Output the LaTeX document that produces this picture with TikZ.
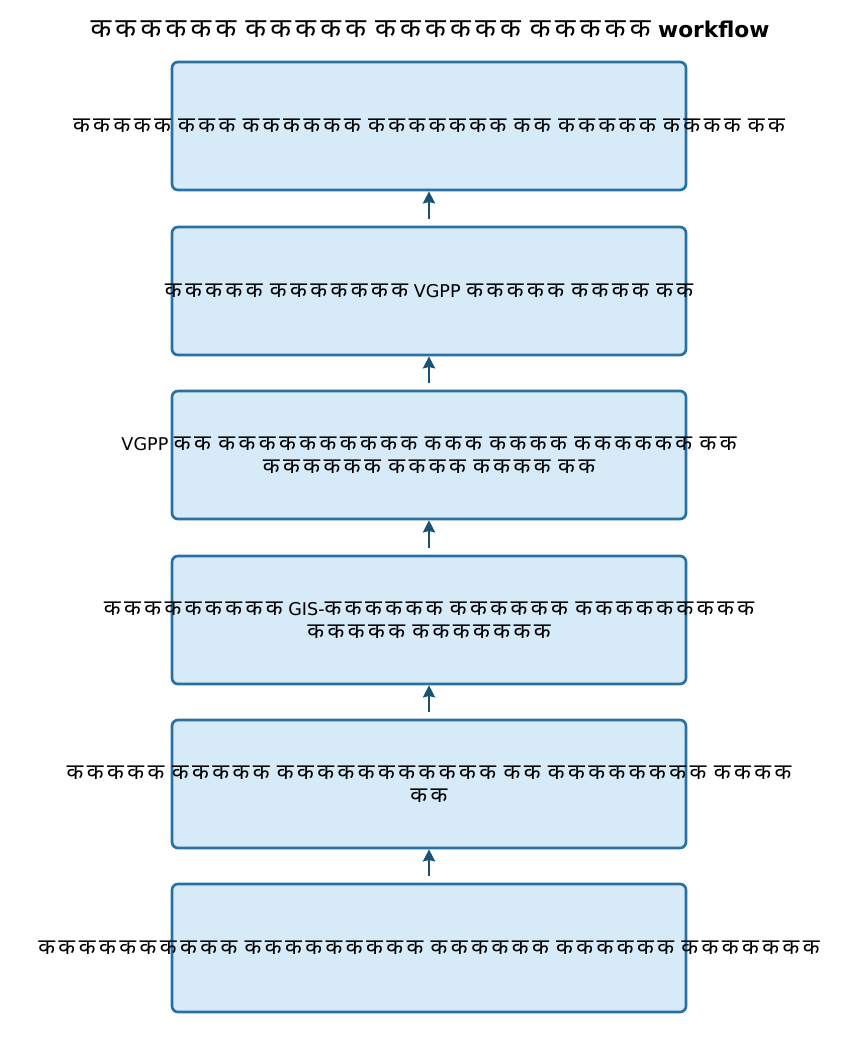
\documentclass[tikz,border=0pt]{standalone}
\usepackage{fontspec}
\setmainfont{DejaVu Sans}
\newfontfamily\dvfont[Script=Devanagari, Scale=1.24, LetterSpace=16, WordSpace=0.8]{Noto Sans}
\newcommand\dv{\dvfont}
\usetikzlibrary{arrows.meta}
\definecolor{boxfill}{RGB}{214,234,248}
\definecolor{boxline}{RGB}{41,113,163}
\definecolor{arrowcol}{RGB}{26,82,118}
\tikzset{
  stepbox/.style={draw=boxline, fill=boxfill, line width=2pt, rounded corners=4.5pt,
    minimum width=385.5pt, minimum height=96pt, inner sep=0pt},
  txt/.style={align=center, inner sep=0pt, font=\fontsize{13.2}{17.25}\selectfont},
  titletxt/.style={inner sep=0pt, font=\fontsize{16.3}{18}\selectfont\bfseries},
  flow/.style={draw=arrowcol, line width=2pt, shorten <=5pt,
    -{Stealth[length=9pt, width=9pt, inset=1pt]}}
}
\begin{document}
\begin{tikzpicture}[x=0.75pt, y=-0.75pt]
\useasboundingbox (0,0) rectangle (858,1053);
\node[titletxt] (title) at (430,29) {{\dv कककककक ककककक कककककक ककककक} workflow};
\node[stepbox] (b1) at (429,126) {};
\node[stepbox] (b2) at (429,291) {};
\node[stepbox] (b3) at (429,455) {};
\node[stepbox] (b4) at (429,620) {};
\node[stepbox] (b5) at (429,784) {};
\node[stepbox] (b6) at (429,948) {};
\node[txt] (t1) at (b1) {\dv ककककक ककक कककककक ककककककक कक ककककक कककक कक};
\node[txt] (t2) at (b2) {{\dv ककककक ककककककक} VGPP {\dv ककककक कककक कक}};
\node[txt] (t3) at (b3) {VGPP {\dv कक कककककककककक ककक कककक कककककक कक}\\{\dv कककककक कककक कककक कक}};
\node[txt] (t4) at (b4) {{\dv ककककककककक} GIS-{\dv कककककक कककककक ककककककककक}\\{\dv ककककक ककककककक}};
\node[txt] (t5) at (b5) {{\dv ककककक ककककक ककककककककककक कक कककककककक कककक}\\{\dv कक}};
\node[txt] (t6) at (b6) {\dv कककककककककक ककककककककक कककककक कककककक ककककककक};
\draw[flow] (b6.north) -- (b5.south);
\draw[flow] (b5.north) -- (b4.south);
\draw[flow] (b4.north) -- (b3.south);
\draw[flow] (b3.north) -- (b2.south);
\draw[flow] (b2.north) -- (b1.south);
\end{tikzpicture}
\end{document}
